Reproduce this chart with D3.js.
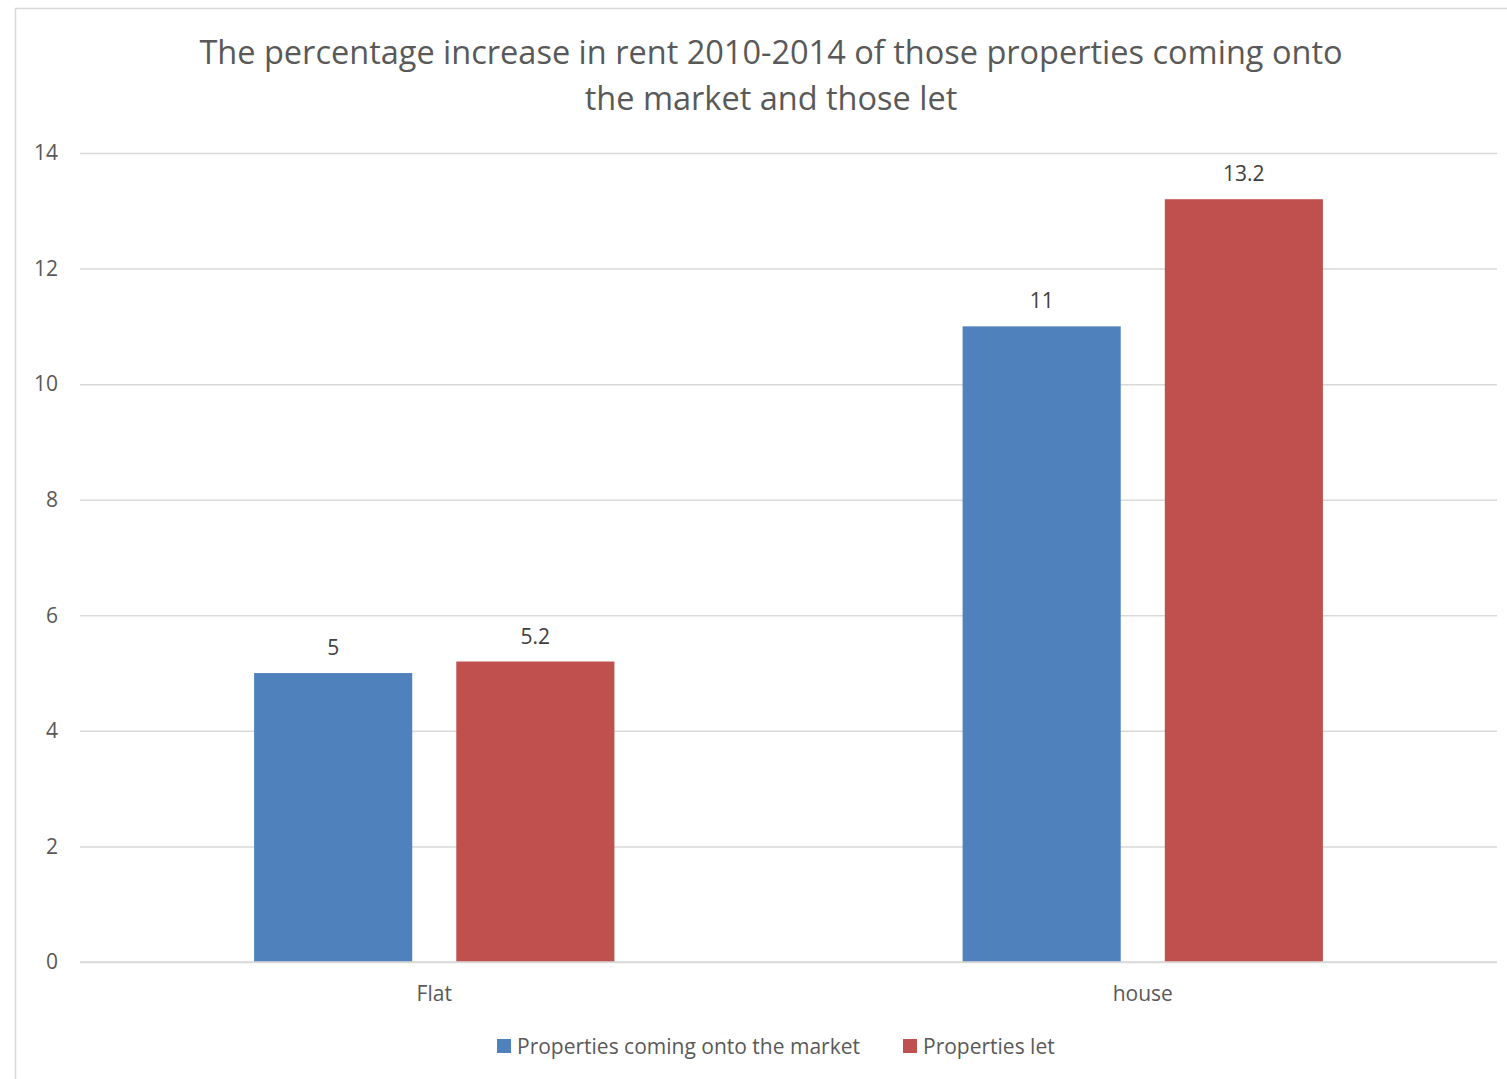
<!DOCTYPE html>
<html>
<head>
<meta charset="utf-8">
<script src="https://cdn.jsdelivr.net/npm/d3@7"></script>
<style>
  body { margin: 0; background: #fff; }
  svg { display: block; }
  text { font-family: "Open Sans", "Noto Sans", sans-serif; }
</style>
</head>
<body>
<svg id="chart" width="1507" height="1079"></svg>
<script>
// data
const categories = ["Flat", "house"];
const seriesNames = ["Properties coming onto the market", "Properties let"];
const marketValues = [5, 11];
const letValues = [5.2, 13.2];
const yTicks = [0, 2, 4, 6, 8, 10, 12, 14];
const colors = ["#4f81bd", "#c0504d"];

const svg = d3.select("#chart");

// chart frame
svg.append("rect")
  .attr("x", 15.5).attr("y", 8.5)
  .attr("width", 1600).attr("height", 1200)
  .attr("fill", "none").attr("stroke", "#d9d9d9").attr("stroke-width", 1.5);

const mLeft = 80, mRight = 1497, mTop = 153, mBottom = 962;

const x = d3.scaleBand().domain(categories).range([mLeft, mRight]);
const x1 = d3.scaleBand().domain(seriesNames).range([0, x.bandwidth()])
  .paddingInner(0.218).paddingOuter(0.861);
const y = d3.scaleLinear().domain([0, 14]).range([mBottom, mTop]);

// gridlines + y labels
const yAxis = d3.axisLeft(y).tickValues(yTicks).tickSize(-(mRight - mLeft)).tickPadding(22);
const gy = svg.append("g").attr("transform", `translate(${mLeft},0)`).call(yAxis);
gy.select(".domain").remove();
gy.selectAll(".tick line").attr("stroke", "#d9d9d9").attr("stroke-width", 1.5);
gy.selectAll(".tick text").attr("fill", "#595959").style("font-size", "21px")
  .style("font-family", '"Open Sans", sans-serif');

// bars
const rows = categories.map((c, i) => ({ cat: c, vals: [marketValues[i], letValues[i]] }));
const groups = svg.append("g").selectAll("g").data(rows).join("g")
  .attr("transform", d => `translate(${x(d.cat)},0)`);

groups.selectAll("rect")
  .data(d => d.vals.map((v, j) => ({ name: seriesNames[j], v, j })))
  .join("rect")
  .attr("x", d => x1(d.name))
  .attr("y", d => y(d.v))
  .attr("width", x1.bandwidth())
  .attr("height", d => y(0) - y(d.v))
  .attr("fill", d => colors[d.j]);

groups.selectAll("text.val")
  .data(d => d.vals.map((v, j) => ({ name: seriesNames[j], v })))
  .join("text")
  .attr("class", "val")
  .attr("x", d => x1(d.name) + x1.bandwidth() / 2)
  .attr("y", d => y(d.v) - 18)
  .attr("text-anchor", "middle")
  .attr("fill", "#404040")
  .style("font-size", "21px")
  .text(d => d.v);

// baseline redraw over bars
svg.append("line")
  .attr("x1", mLeft).attr("x2", mRight).attr("y1", y(0)).attr("y2", y(0))
  .attr("stroke", "#d9d9d9").attr("stroke-width", 1.5);

// x axis labels
const xAxis = d3.axisBottom(x).tickSize(0).tickPadding(24);
const gx = svg.append("g").attr("transform", `translate(0,${mBottom})`).call(xAxis);
gx.select(".domain").remove();
gx.selectAll(".tick text").attr("fill", "#595959").style("font-size", "21px")
  .style("font-family", '"Open Sans", sans-serif');

// title
const title = svg.append("text")
  .attr("text-anchor", "middle")
  .attr("fill", "#595959")
  .style("font-size", "32.5px");
title.append("tspan").attr("x", 771).attr("y", 64)
  .text("The percentage increase in rent 2010-2014 of those properties coming onto");
title.append("tspan").attr("x", 771).attr("y", 110)
  .text("the market and those let");

// legend
const legendItems = [
  { name: seriesNames[0], color: colors[0], x: 497 },
  { name: seriesNames[1], color: colors[1], x: 903 }
];
const lg = svg.append("g").selectAll("g").data(legendItems).join("g")
  .attr("transform", d => `translate(${d.x},1039)`);
lg.append("rect").attr("width", 14).attr("height", 14).attr("fill", d => d.color);
lg.append("text").attr("x", 20).attr("y", 15)
  .attr("fill", "#595959").style("font-size", "21px")
  .text(d => d.name);
</script>
</body>
</html>
